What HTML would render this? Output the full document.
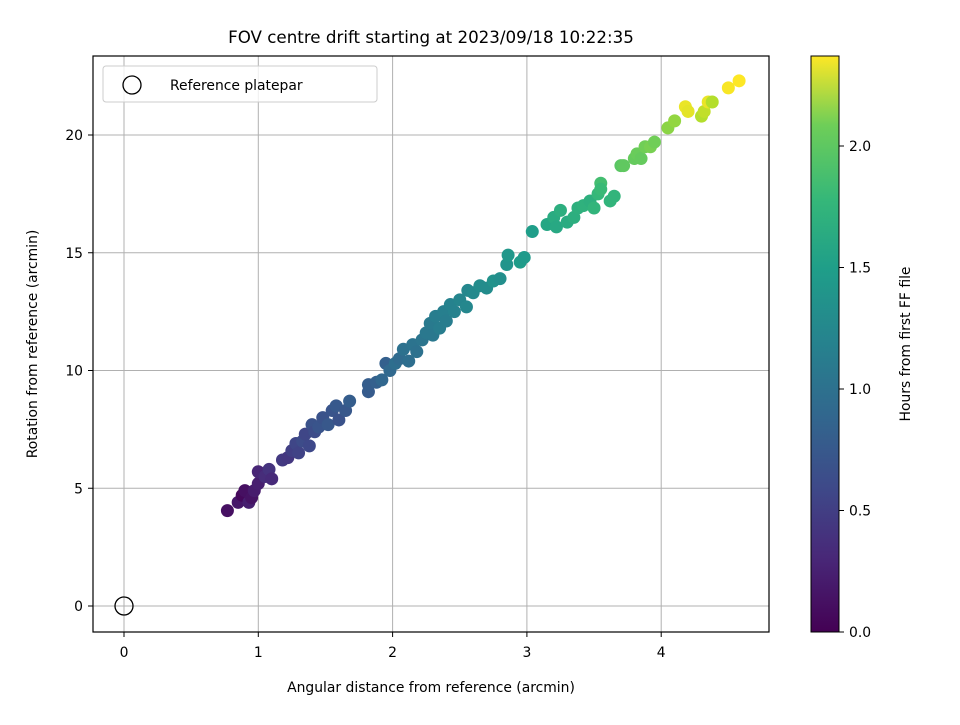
<!DOCTYPE html>
<html><head><meta charset="utf-8"><style>
body{margin:0;background:#fff}
svg text{font-family:"DejaVu Sans","Liberation Sans",sans-serif;fill:#000}
</style></head><body>
<svg id="c" width="960" height="720" xmlns="http://www.w3.org/2000/svg">
<rect width="960" height="720" fill="#fff"/>
<text x="431" y="43" font-size="16.7" text-anchor="middle">FOV centre drift starting at 2023/09/18 10:22:35</text>
<g id="grid"></g><g id="pts"></g><g id="axes"></g>
<rect x="93" y="56" width="676" height="576" fill="none" stroke="#000" stroke-width="1.2"/>
<circle cx="124" cy="606" r="9" fill="none" stroke="#000" stroke-width="1.3"/>
<g>
<rect x="103" y="66" width="274" height="36" rx="3" fill="#fff" fill-opacity="0.8" stroke="#ccc"/>
<circle cx="132" cy="85" r="9" fill="none" stroke="#000" stroke-width="1.3"/>
<text x="170" y="90" font-size="13.9">Reference platepar</text>
</g>
<text x="431" y="692" font-size="13.9" text-anchor="middle">Angular distance from reference (arcmin)</text>
<text transform="translate(37,344) rotate(-90)" font-size="13.9" text-anchor="middle">Rotation from reference (arcmin)</text>
<defs><linearGradient id="vir" x1="0" y1="1" x2="0" y2="0">
<stop offset="0" stop-color="#440154"/><stop offset="0.13" stop-color="#482878"/><stop offset="0.25" stop-color="#3e4989"/><stop offset="0.38" stop-color="#31688e"/><stop offset="0.5" stop-color="#26828e"/><stop offset="0.63" stop-color="#1f9e89"/><stop offset="0.75" stop-color="#35b779"/><stop offset="0.88" stop-color="#6ece58"/><stop offset="1" stop-color="#fde725"/>
</linearGradient></defs>
<rect x="811" y="56" width="28" height="576" fill="url(#vir)" stroke="#000" stroke-width="1"/>
<g id="cb"></g>
<text transform="translate(910,344) rotate(-90)" font-size="13.9" text-anchor="middle">Hours from first FF file</text>
</svg>
<script>
const xTicks=[0,1,2,3,4];
const yTicks=[0,5,10,15,20];
const cbTicks=["0.0","0.5","1.0","1.5","2.0"];
const xs=[0.77,0.85,0.88,0.9,0.93,0.95,0.97,1.0,1.0,1.05,1.08,1.1,1.18,1.22,1.25,1.28,1.3,1.33,1.35,1.38,1.4,1.42,1.45,1.48,1.52,1.55,1.58,1.6,1.65,1.68,1.82,1.82,1.88,1.92,1.95,1.98,2.02,2.05,2.08,2.12,2.15,2.18,2.22,2.25,2.28,2.3,2.32,2.35,2.38,2.4,2.43,2.46,2.5,2.55,2.56,2.6,2.65,2.7,2.75,2.8,2.85,2.86,2.95,2.98,3.04,3.15,3.2,3.22,3.25,3.3,3.35,3.38,3.42,3.47,3.5,3.53,3.55,3.55,3.62,3.65,3.7,3.72,3.8,3.82,3.85,3.88,3.92,3.95,4.05,4.1,4.18,4.2,4.3,4.32,4.35,4.38,4.5,4.58];
const ys=[4.05,4.4,4.7,4.9,4.4,4.6,4.9,5.2,5.7,5.5,5.8,5.4,6.2,6.3,6.6,6.9,6.5,7.0,7.3,6.8,7.7,7.4,7.6,8.0,7.7,8.3,8.5,7.9,8.3,8.7,9.1,9.4,9.5,9.6,10.3,10.0,10.3,10.5,10.9,10.4,11.1,10.8,11.3,11.6,12.0,11.5,12.3,11.8,12.5,12.1,12.8,12.5,13.0,12.7,13.4,13.3,13.6,13.5,13.8,13.9,14.5,14.9,14.6,14.8,15.9,16.2,16.5,16.1,16.8,16.3,16.5,16.9,17.0,17.2,16.9,17.5,17.95,17.7,17.2,17.4,18.7,18.7,19.0,19.2,19.0,19.5,19.5,19.7,20.3,20.6,21.2,21.0,20.8,21.0,21.4,21.4,22.0,22.3];
const ts=[0.1,0.15,0.05,0.1,0.2,0.12,0.18,0.2,0.25,0.3,0.35,0.28,0.4,0.38,0.45,0.5,0.48,0.55,0.5,0.52,0.6,0.55,0.62,0.6,0.65,0.62,0.66,0.6,0.65,0.7,0.68,0.7,0.72,0.78,0.72,0.8,0.85,0.82,0.88,0.85,0.9,0.88,0.92,0.95,0.97,0.95,1.0,1.0,1.02,1.0,1.05,1.05,1.08,1.1,1.1,1.12,1.15,1.15,1.2,1.18,1.22,1.25,1.3,1.28,1.32,1.4,1.45,1.42,1.48,1.45,1.48,1.5,1.52,1.5,1.55,1.58,1.65,1.6,1.55,1.55,1.75,1.78,1.8,1.82,1.8,1.85,1.88,1.85,1.95,1.98,2.3,2.28,2.1,2.15,2.3,2.1,2.35,2.37];
const X=v=>124+v*134.3, Y=v=>606-v*23.55, T=v=>632-v*243;
const tMax=2.37;
const vir=[[68,1,84],[72,40,120],[62,73,137],[49,104,142],[38,130,142],[31,158,137],[53,183,121],[110,206,88],[181,222,43],[253,231,37]];
function col(t){let f=Math.max(0,Math.min(1,t/tMax))*(vir.length-1),i=Math.min(Math.floor(f),vir.length-2),r=f-i;
return 'rgb('+vir[i].map((c,k)=>Math.round(c+(vir[i+1][k]-c)*r)).join(',')+')';}
const NS='http://www.w3.org/2000/svg';
function mk(tag,at,par){const e=document.createElementNS(NS,tag);for(const k in at)e.setAttribute(k,at[k]);document.getElementById(par).appendChild(e);return e;}
xTicks.forEach(v=>{
 const g=mk('line',{x1:X(v),x2:X(v),y1:56,y2:632,stroke:'#b0b0b0','stroke-width':1},'grid');
 
 
 mk('line',{x1:X(v),x2:X(v),y1:632,y2:637,stroke:'#000'},'axes');
 const t=mk('text',{x:X(v),y:657,'font-size':13.9,'text-anchor':'middle'},'axes');t.textContent=v;
 
 
});
yTicks.forEach(v=>{
 const g=mk('line',{x1:93,x2:769,y1:Y(v),y2:Y(v),stroke:'#b0b0b0','stroke-width':1},'grid');
 
 
 mk('line',{x1:88,x2:93,y1:Y(v),y2:Y(v),stroke:'#000'},'axes');
 const t=mk('text',{x:83,y:Y(v)+5,'font-size':13.9,'text-anchor':'end'},'axes');t.textContent=v;
 
 
});
cbTicks.forEach(s=>{
 const v=parseFloat(s);
 mk('line',{x1:839,x2:844,y1:T(v),y2:T(v),stroke:'#000'},'cb');
 const t=mk('text',{x:849,y:T(v)+5,'font-size':13.9},'cb');t.textContent=s;
 
 
});
xs.forEach((x,i)=>{
 const c=mk('circle',{cx:X(x),cy:Y(ys[i]),r:6.5,fill:col(ts[i])},'pts');
 
 
});
</script>
</body></html>
